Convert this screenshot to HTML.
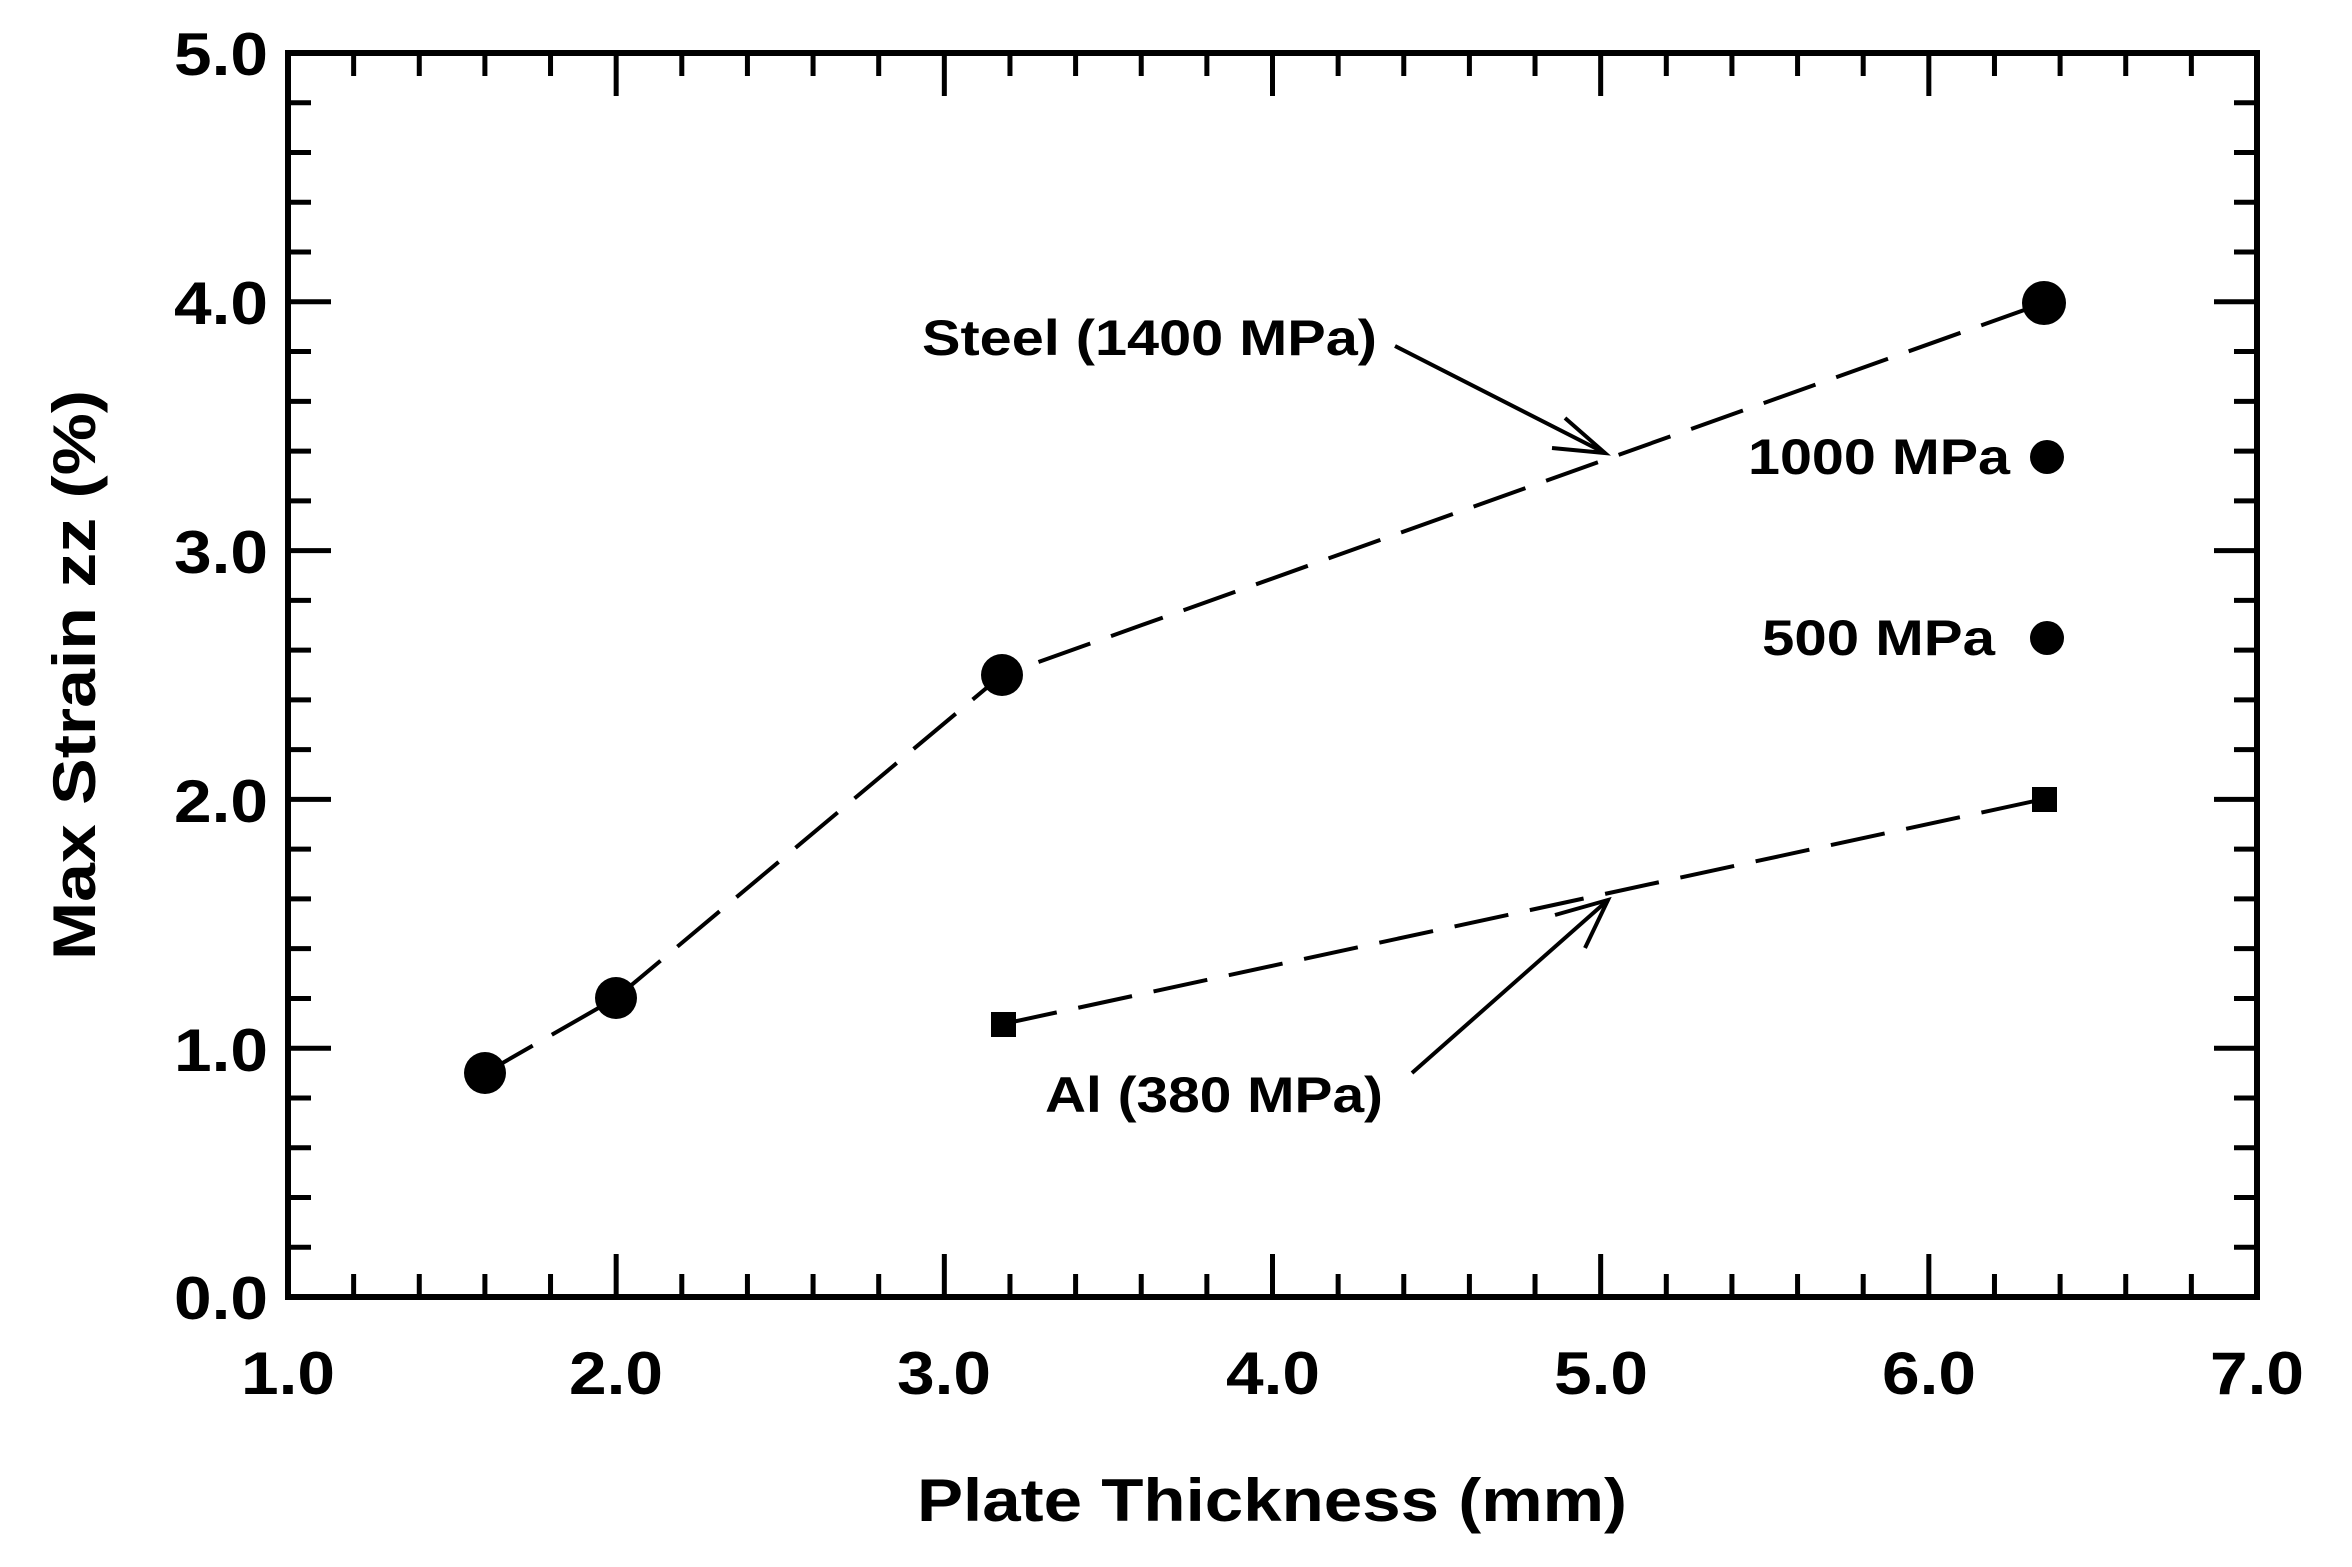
<!DOCTYPE html>
<html><head><meta charset="utf-8"><style>
html,body{margin:0;padding:0;background:#fff;}
svg{display:block;}
text{font-family:"Liberation Sans",Arial,sans-serif;font-weight:bold;fill:#000;}
</style></head><body>
<svg width="2352" height="1567" viewBox="0 0 2352 1567" xmlns="http://www.w3.org/2000/svg">
<rect x="288" y="53" width="1969" height="1244" fill="none" stroke="#000" stroke-width="6"/>
<g stroke="#000" stroke-width="5" id="tk"></g>
<script>
(function(){
 var g=document.getElementById('tk'),ns='http://www.w3.org/2000/svg';
 function L(x1,y1,x2,y2){var l=document.createElementNS(ns,'line');l.setAttribute('x1',x1);l.setAttribute('y1',y1);l.setAttribute('x2',x2);l.setAttribute('y2',y2);g.appendChild(l);}
 var x0=288,x1=2257,y0=1297,y1=53;
 for(var i=0;i<=30;i++){var x=x0+(x1-x0)*i/30;var len=(i%5==0)?43:23;L(x,y0,x,y0-len);L(x,y1,x,y1+len);}
 for(var j=0;j<=25;j++){var y=y0-(y0-y1)*j/25;var len=(j%5==0)?43:23;L(x0,y,x0+len,y);L(x1,y,x1-len,y);}
})();
</script>
<g font-size="60" text-anchor="end">
<text x="268" y="75" textLength="94" lengthAdjust="spacingAndGlyphs">5.0</text>
<text x="268" y="324" textLength="94" lengthAdjust="spacingAndGlyphs">4.0</text>
<text x="268" y="573" textLength="94" lengthAdjust="spacingAndGlyphs">3.0</text>
<text x="268" y="822" textLength="94" lengthAdjust="spacingAndGlyphs">2.0</text>
<text x="268" y="1071" textLength="94" lengthAdjust="spacingAndGlyphs">1.0</text>
<text x="268" y="1319" textLength="94" lengthAdjust="spacingAndGlyphs">0.0</text>
</g>
<g font-size="60" text-anchor="middle">
<text x="288" y="1394" textLength="94" lengthAdjust="spacingAndGlyphs">1.0</text>
<text x="616" y="1394" textLength="94" lengthAdjust="spacingAndGlyphs">2.0</text>
<text x="944" y="1394" textLength="94" lengthAdjust="spacingAndGlyphs">3.0</text>
<text x="1273" y="1394" textLength="94" lengthAdjust="spacingAndGlyphs">4.0</text>
<text x="1601" y="1394" textLength="94" lengthAdjust="spacingAndGlyphs">5.0</text>
<text x="1929" y="1394" textLength="94" lengthAdjust="spacingAndGlyphs">6.0</text>
<text x="2257" y="1394" textLength="94" lengthAdjust="spacingAndGlyphs">7.0</text>
</g>
<text x="1272" y="1521" font-size="60" text-anchor="middle" textLength="710" lengthAdjust="spacingAndGlyphs">Plate Thickness (mm)</text>
<text transform="translate(95,675) rotate(-90)" font-size="60" text-anchor="middle" textLength="570" lengthAdjust="spacingAndGlyphs">Max Strain zz (%)</text>
<g fill="none" stroke="#000" stroke-width="4" stroke-dasharray="55,22">
<polyline points="485,1073 616,998 1002,675 2044,303"/>
<polyline points="1003,1024 2044,799"/>
</g>
<g fill="#000">
<circle cx="485" cy="1073" r="21"/>
<circle cx="616" cy="998" r="21"/>
<circle cx="1002" cy="675" r="21"/>
<circle cx="2044" cy="303" r="22"/>
<circle cx="2047" cy="457" r="17"/>
<circle cx="2047" cy="638" r="17"/>
<rect x="991" y="1012" width="25" height="25"/>
<rect x="2032" y="787" width="25" height="25"/>
</g>
<g font-size="50">
<text x="922" y="355" textLength="455" lengthAdjust="spacingAndGlyphs">Steel (1400 MPa)</text>
<text x="1748" y="474" textLength="262" lengthAdjust="spacingAndGlyphs">1000 MPa</text>
<text x="1762" y="655" textLength="233" lengthAdjust="spacingAndGlyphs">500 MPa</text>
<text x="1045" y="1112" textLength="338" lengthAdjust="spacingAndGlyphs">Al (380 MPa)</text>
</g>
<g fill="none" stroke="#000" stroke-width="4">
<line x1="1395" y1="346" x2="1605" y2="453"/>
<polyline points="1565,418 1605,453 1552,448"/>
<line x1="1412" y1="1073" x2="1608" y2="900"/>
<polyline points="1555,915 1608,900 1585,948"/>
</g>
</svg>
</body></html>
